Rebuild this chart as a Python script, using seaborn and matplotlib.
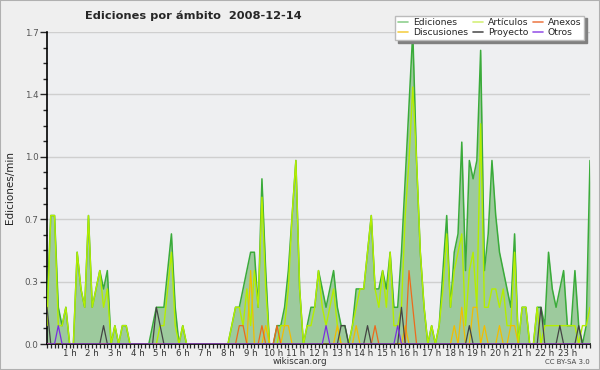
import numpy as np
import pandas as pd
import seaborn as sns
import matplotlib.pyplot as plt
from matplotlib.lines import Line2D
from matplotlib.patches import Rectangle
from matplotlib.ticker import MultipleLocator

# ediciones por minuto, un punto cada 10 minutos (00:00 .. 24:00)
ediciones = [
    0.2, 0.7, 0.7, 0.2, 0.1, 0.2, 0.0, 0.0, 0.5, 0.3, 0.2, 0.7,
    0.2, 0.3, 0.4, 0.3, 0.4, 0.0, 0.1, 0.0, 0.1, 0.1, 0.0, 0.0,
    0.0, 0.0, 0.0, 0.0, 0.1, 0.2, 0.2, 0.2, 0.4, 0.6, 0.2, 0.0,
    0.1, 0.0, 0.0, 0.0, 0.0, 0.0, 0.0, 0.0, 0.0, 0.0, 0.0, 0.0,
    0.0, 0.1, 0.2, 0.2, 0.3, 0.4, 0.5, 0.5, 0.2, 0.9, 0.4, 0.0,
    0.0, 0.1, 0.1, 0.2, 0.4, 0.7, 1.0, 0.3, 0.0, 0.1, 0.2, 0.2,
    0.4, 0.3, 0.2, 0.3, 0.4, 0.2, 0.1, 0.1, 0.0, 0.1, 0.3, 0.3,
    0.3, 0.5, 0.7, 0.3, 0.3, 0.4, 0.3, 0.5, 0.2, 0.2, 0.5, 0.9,
    1.3, 1.7, 1.0, 0.5, 0.2, 0.0, 0.1, 0.0, 0.1, 0.4, 0.7, 0.2,
    0.5, 0.6, 1.1, 0.4, 1.0, 0.9, 1.0, 1.6, 0.4, 0.6, 1.0, 0.7,
    0.5, 0.4, 0.3, 0.2, 0.6, 0.0, 0.2, 0.2, 0.0, 0.0, 0.2, 0.2,
    0.1, 0.5, 0.3, 0.2, 0.3, 0.4, 0.1, 0.1, 0.4, 0.1, 0.0, 0.1,
    1.0,
]
articulos = [
    0.1, 0.7, 0.7, 0.1, 0.1, 0.2, 0.0, 0.0, 0.5, 0.3, 0.2, 0.7,
    0.2, 0.3, 0.4, 0.2, 0.3, 0.0, 0.1, 0.0, 0.1, 0.1, 0.0, 0.0,
    0.0, 0.0, 0.0, 0.0, 0.0, 0.0, 0.1, 0.1, 0.3, 0.5, 0.1, 0.0,
    0.1, 0.0, 0.0, 0.0, 0.0, 0.0, 0.0, 0.0, 0.0, 0.0, 0.0, 0.0,
    0.0, 0.1, 0.2, 0.2, 0.1, 0.3, 0.1, 0.4, 0.2, 0.8, 0.3, 0.0,
    0.0, 0.0, 0.1, 0.1, 0.3, 0.7, 1.0, 0.3, 0.0, 0.1, 0.1, 0.2,
    0.4, 0.2, 0.1, 0.2, 0.3, 0.1, 0.0, 0.0, 0.0, 0.1, 0.2, 0.3,
    0.3, 0.5, 0.7, 0.3, 0.2, 0.4, 0.2, 0.5, 0.1, 0.1, 0.2, 0.7,
    1.0, 1.4, 1.0, 0.5, 0.2, 0.0, 0.1, 0.0, 0.1, 0.3, 0.6, 0.2,
    0.4, 0.5, 0.6, 0.1, 0.4, 0.5, 0.2, 1.2, 0.2, 0.2, 0.3, 0.3,
    0.2, 0.3, 0.1, 0.1, 0.5, 0.0, 0.2, 0.2, 0.0, 0.0, 0.2, 0.0,
    0.1, 0.1, 0.1, 0.1, 0.1, 0.1, 0.1, 0.1, 0.1, 0.0, 0.1, 0.1,
    0.2,
]
discusiones = [
    0, 0, 0, 0, 0, 0, 0, 0, 0, 0, 0, 0,
    0, 0, 0, 0, 0, 0, 0, 0, 0, 0, 0, 0,
    0, 0, 0, 0, 0, 0, 0, 0, 0, 0, 0, 0,
    0, 0, 0, 0, 0, 0, 0, 0, 0, 0, 0, 0,
    0, 0, 0, 0, 0, 0, 0.4, 0, 0, 0, 0.1, 0,
    0, 0, 0, 0.1, 0.1, 0, 0, 0, 0, 0, 0, 0,
    0, 0, 0, 0, 0, 0.1, 0, 0, 0, 0, 0.1, 0,
    0, 0, 0, 0, 0, 0, 0, 0, 0, 0, 0, 0.1,
    0, 0, 0, 0, 0, 0, 0, 0, 0, 0, 0, 0,
    0.1, 0, 0.2, 0, 0, 0.2, 0.2, 0, 0.1, 0, 0, 0,
    0.1, 0, 0, 0.1, 0.1, 0, 0, 0, 0, 0, 0, 0,
    0, 0, 0, 0, 0, 0, 0, 0, 0, 0, 0, 0,
    0,
]
anexos = [
    0, 0, 0, 0, 0, 0, 0, 0, 0, 0, 0, 0,
    0, 0, 0, 0, 0, 0, 0, 0, 0, 0, 0, 0,
    0, 0, 0, 0, 0, 0, 0, 0, 0, 0, 0, 0,
    0, 0, 0, 0, 0, 0, 0, 0, 0, 0, 0, 0,
    0, 0, 0, 0.1, 0.1, 0, 0, 0, 0, 0.1, 0, 0,
    0, 0.1, 0, 0, 0, 0, 0, 0, 0, 0, 0, 0,
    0, 0, 0, 0, 0, 0, 0, 0, 0, 0, 0, 0,
    0, 0, 0, 0.1, 0, 0, 0, 0, 0, 0, 0, 0,
    0.4, 0.2, 0, 0, 0, 0, 0, 0, 0, 0, 0, 0,
    0, 0, 0, 0, 0, 0, 0, 0, 0, 0, 0, 0,
    0, 0, 0, 0, 0, 0, 0, 0, 0, 0, 0, 0,
    0, 0, 0, 0, 0, 0, 0, 0, 0, 0, 0, 0,
    0,
]
proyecto = [
    0.2, 0, 0, 0, 0, 0, 0, 0, 0, 0, 0, 0,
    0, 0, 0, 0.1, 0, 0, 0, 0, 0, 0, 0, 0,
    0, 0, 0, 0, 0, 0.2, 0.1, 0, 0, 0, 0, 0,
    0, 0, 0, 0, 0, 0, 0, 0, 0, 0, 0, 0,
    0, 0, 0, 0, 0, 0, 0, 0, 0, 0, 0, 0,
    0, 0, 0, 0, 0, 0, 0, 0, 0, 0, 0, 0,
    0, 0, 0, 0, 0, 0, 0.1, 0.1, 0, 0, 0, 0,
    0, 0.1, 0, 0, 0, 0, 0, 0, 0, 0, 0.2, 0,
    0, 0, 0, 0, 0, 0, 0, 0, 0, 0, 0, 0,
    0, 0, 0, 0, 0.1, 0, 0, 0, 0, 0, 0, 0,
    0, 0, 0, 0, 0, 0, 0, 0, 0, 0, 0, 0.2,
    0, 0, 0, 0, 0.1, 0, 0, 0, 0, 0.1, 0, 0,
    0,
]
otros = [
    0, 0, 0, 0.1, 0, 0, 0, 0, 0, 0, 0, 0,
    0, 0, 0, 0, 0, 0, 0, 0, 0, 0, 0, 0,
    0, 0, 0, 0, 0, 0, 0, 0, 0, 0, 0, 0,
    0, 0, 0, 0, 0, 0, 0, 0, 0, 0, 0, 0,
    0, 0, 0, 0, 0, 0, 0, 0, 0, 0, 0, 0,
    0, 0, 0, 0, 0, 0, 0, 0, 0, 0, 0, 0,
    0, 0, 0.1, 0, 0, 0, 0, 0, 0, 0, 0, 0,
    0, 0, 0, 0, 0, 0, 0, 0, 0, 0.1, 0, 0,
    0, 0, 0, 0, 0, 0, 0, 0, 0, 0, 0, 0,
    0, 0, 0, 0, 0, 0, 0, 0, 0, 0, 0, 0,
    0, 0, 0, 0, 0, 0, 0, 0, 0, 0, 0, 0,
    0, 0, 0, 0, 0, 0, 0, 0, 0, 0, 0, 0,
    0,
]

horas = np.arange(len(ediciones)) / 6.0
hour_labels = [f'{h} h' for h in range(1, 24)]
ytick_vals = [0, 0.34, 0.68, 1.02, 1.36, 1.7]
ytick_labels = ['0.0', '0.3', '0.7', '1.0', '1.4', '1.7']

series = {
    'Ediciones': ediciones,
    'Artículos': articulos,
    'Discusiones': discusiones,
    'Anexos': anexos,
    'Proyecto': proyecto,
    'Otros': otros,
}
colores = {
    'Ediciones': '#3aab3a',
    'Artículos': '#b4ee00',
    'Discusiones': '#f2bd00',
    'Anexos': '#ec6a1c',
    'Proyecto': '#444444',
    'Otros': '#7a2fe0',
}
colores_leyenda = {
    'Ediciones': '#8fd08f',
    'Artículos': '#d4f07a',
    'Discusiones': '#f5cf4a',
    'Anexos': '#ee8050',
    'Proyecto': '#555555',
    'Otros': '#9a5ae8',
}

df = pd.DataFrame({'hora': np.tile(horas, len(series)),
                   'valor': np.concatenate([series[k] for k in series]),
                   'ambito': np.repeat(list(series.keys()), len(horas))})

sns.set_style('white')
plt.rcParams['font.family'] = ['DejaVu Sans']

fig = plt.figure(figsize=(6, 3.7), dpi=100, facecolor='#efefef')
ax = fig.add_axes([47 / 600, 1 - 344 / 370, 543 / 600, 312 / 370])
ax.set_facecolor('#eeeff1')

ax.fill_between(horas, ediciones, color='#9dca9d', linewidth=0, zorder=1)

# dibujar las series, las pequeñas encima
orden = ['Ediciones', 'Artículos', 'Discusiones', 'Anexos', 'Proyecto', 'Otros']
anchos = {'Ediciones': 1.1, 'Artículos': 1.0}
for k in orden:
    sub = df[df.ambito == k]
    sns.lineplot(data=sub, x='hora', y='valor', color=colores[k], estimator=None,
                 linewidth=anchos.get(k, 0.9), ax=ax, legend=False, zorder=3)

ax.set_xlim(0, 24)
ax.set_ylim(0, 1.7)
ax.set_xlabel('')
ax.set_ylabel('')

ax.set_yticks(ytick_vals)
ax.set_yticklabels(ytick_labels)
ax.yaxis.set_minor_locator(MultipleLocator(0.085))
ax.set_xticks(range(1, 24))
ax.set_xticklabels(hour_labels)
ax.xaxis.set_minor_locator(MultipleLocator(1 / 6))

ax.grid(axis='y', color='#cfcfcf', linewidth=1)
ax.set_axisbelow(True)

for s in ['top', 'right']:
    ax.spines[s].set_visible(False)
ax.spines['left'].set_color('black')
ax.spines['bottom'].set_color('black')
ax.spines['left'].set_linewidth(1.2)
ax.spines['bottom'].set_linewidth(1.2)

ax.tick_params(axis='y', which='major', length=5, width=1, direction='out', left=True,
               labelsize=6.3, labelcolor='#555555', pad=1)
ax.tick_params(axis='y', which='minor', length=3, width=1, direction='out', left=True)
ax.tick_params(axis='x', which='both', length=3, width=0.9, direction='out', bottom=True,
               labelsize=6.2, labelcolor='#333333', pad=0.5)

fig.text(85 / 600, 1 - 16 / 370, 'Ediciones por ámbito  2008-12-14', fontsize=8.2,
         fontweight='bold', ha='left', va='center')
fig.text(10 / 600, 1 - 188 / 370, 'Ediciones/min', fontsize=7.5, rotation=90,
         ha='center', va='center', color='#222222')
fig.text(300 / 600, 1 - 362 / 370, 'wikiscan.org', fontsize=6.3, ha='center',
         va='center', color='#333333')
fig.text(590 / 600, 1 - 362 / 370, 'CC BY-SA 3.0', fontsize=5, ha='right',
         va='center', color='#444444')

orden_leyenda = ['Ediciones', 'Discusiones', 'Artículos', 'Proyecto', 'Anexos', 'Otros']
handles = [Line2D([], [], color=colores_leyenda[k], linewidth=1.2) for k in orden_leyenda]
leg = fig.legend(handles, orden_leyenda, loc='upper right', bbox_to_anchor=(589 / 600, 1 - 11 / 370),
                 ncol=3, fontsize=6.7, frameon=True, fancybox=False, framealpha=1,
                 edgecolor='#bbbbbb', facecolor='white', handlelength=1.1, handletextpad=0.5,
                 columnspacing=0.5, labelspacing=0.1, borderpad=0.3,
                 shadow={'color': '#808080', 'alpha': 1})

fig.patches.append(Rectangle((0, 0), 1, 1, transform=fig.transFigure, fill=False,
                             edgecolor='#b0b0b0', linewidth=1.5))

fig.savefig('out.png', dpi=100, facecolor=fig.get_facecolor())
